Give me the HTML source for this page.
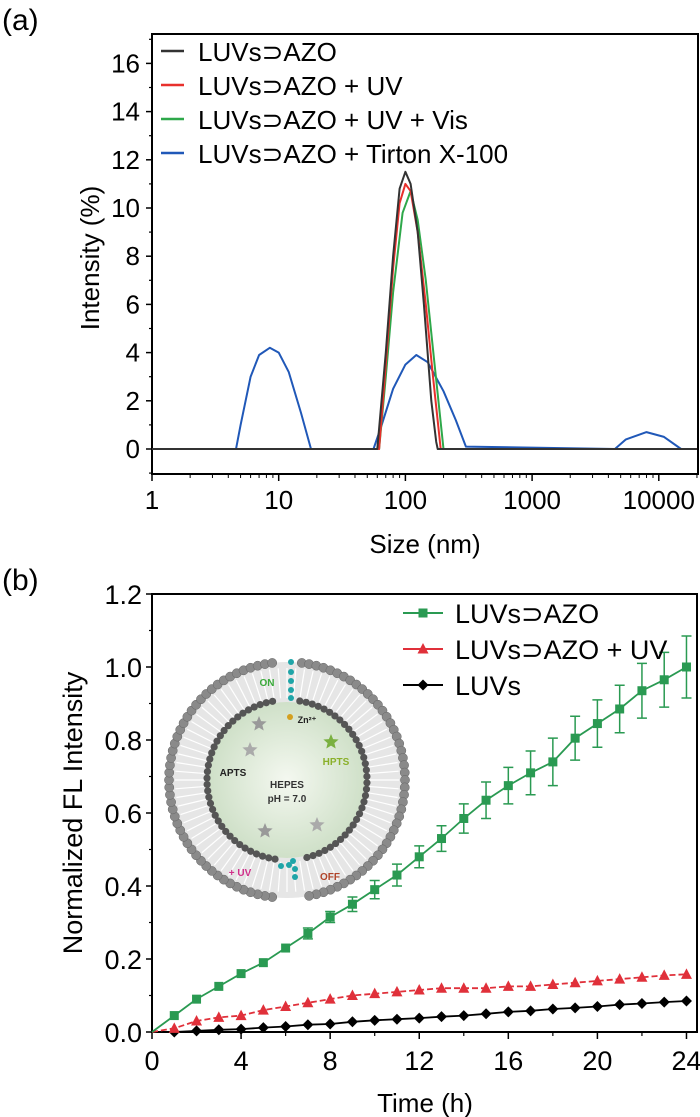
<!DOCTYPE html>
<html><head><meta charset="utf-8"><style>
body{margin:0;background:#fff;}
svg{display:block;font-family:"Liberation Sans",Arial,sans-serif;}
</style></head><body>
<svg id="fig" width="700" height="1117" viewBox="0 0 700 1117" xmlns="http://www.w3.org/2000/svg">
<text x="2" y="30" font-size="30">(a)</text>
<text x="2" y="590" font-size="30">(b)</text>
<g id="pa"></g>
<g id="inset"></g>
<g id="pb"></g>
</svg>
<script>
// ---- Panel (a) data ----
const aXTicks=[1,10,100,1000,10000];
const aYTicks=[0,2,4,6,8,10,12,14,16];
const aNames=["LUVs⊃AZO","LUVs⊃AZO + UV","LUVs⊃AZO + UV + Vis","LUVs⊃AZO + Tirton X-100"];
const aColors=["#333333","#e8302c","#2ea84a","#2058b8"];
const blackX=[1,60,70,80,90,100,110,125,140,160,175,180,20000];
const blackY=[0,0,4,8,10.8,11.5,11,9,6,2,0.3,0,0];
const redX=[1,62,70,80,90,100,110,125,145,165,190,20000];
const redY=[0,0,3.5,7.5,10.2,11,10.7,9,6,3,0,0];
const greenX=[1,62,70,80,95,110,125,145,170,200,20000];
const greenY=[0,0,3,6.5,9.8,10.7,9.5,7,3.5,0,0];
const blueX=[1,4.6,5,6,7,8.5,10,12,15,18,56,65,80,100,122,150,200,250,300,4500,5500,8000,11000,15000,20000];
const blueY=[0,0,1,3,3.9,4.2,4,3.2,1.5,0,0,1,2.5,3.5,3.9,3.6,2.4,1.2,0.1,0,0.4,0.7,0.5,0,0];

// ---- Panel (b) data ----
const times=[0,1,2,3,4,5,6,7,8,9,10,11,12,13,14,15,16,17,18,19,20,21,22,23,24];
const greenVals=[0,0.045,0.09,0.125,0.16,0.19,0.23,0.27,0.315,0.35,0.39,0.43,0.48,0.53,0.585,0.635,0.675,0.71,0.74,0.805,0.845,0.885,0.935,0.965,1.0];
const greenErr=[0,0.005,0.005,0.005,0.008,0.008,0.01,0.015,0.015,0.02,0.025,0.03,0.03,0.035,0.04,0.05,0.05,0.06,0.065,0.06,0.065,0.065,0.075,0.075,0.085];
const redVals=[0,0.01,0.03,0.04,0.045,0.06,0.07,0.08,0.09,0.1,0.105,0.11,0.115,0.12,0.12,0.12,0.125,0.125,0.13,0.135,0.14,0.145,0.15,0.155,0.158];
const blackVals=[0,0,0.003,0.006,0.008,0.012,0.015,0.02,0.022,0.028,0.032,0.035,0.038,0.042,0.045,0.05,0.055,0.058,0.063,0.066,0.07,0.075,0.078,0.082,0.085];
const bXTicks=[0,4,8,12,16,20,24];
const bYTicks=[0,0.2,0.4,0.6,0.8,1.0,1.2];
const bNames=["LUVs⊃AZO","LUVs⊃AZO + UV","LUVs"];

const NS="http://www.w3.org/2000/svg";
function mk(p,t,a){const e=document.createElementNS(NS,t);for(const k in a)e.setAttribute(k,a[k]);p.appendChild(e);return e;}

// Panel a axes
const aL=152,aR=698,aT=34,aB=474;
const ax=v=>aL+(Math.log10(v))*126.7;
const ay=v=>449-(v)*24.1;
const pa=document.getElementById('pa');
let e;
e=mk(pa,'rect',{x:aL,y:aT,width:aR-aL,height:aB-aT,fill:'none',stroke:'#000','stroke-width':2});


aYTicks.forEach(v=>{
 e=mk(pa,'line',{x1:aL-6,x2:aL,y1:ay(v),y2:ay(v),stroke:'#000','stroke-width':1.5});
 
 
 e=mk(pa,'line',{x1:aL-3,x2:aL,y1:ay(v+1),y2:ay(v+1),stroke:'#000','stroke-width':1.2});
 
 
 e=mk(pa,'text',{x:aL-12,y:ay(v)+9,'font-size':26,'text-anchor':'end'});e.textContent=v;
 
 
});
e=mk(pa,'line',{x1:aL-3,x2:aL,y1:ay(-1),y2:ay(-1),stroke:'#000','stroke-width':1.2});


aXTicks.forEach(v=>{
 e=mk(pa,'line',{x1:ax(v),x2:ax(v),y1:aB,y2:aB+7,stroke:'#000','stroke-width':1.5});
 
 
 for(let m=2;m<10;m++){const xv=v*m;if(ax(xv)<aR){
  e=mk(pa,'line',{x1:ax(xv),x2:ax(xv),y1:aB,y2:aB+4,stroke:'#000','stroke-width':1});
  
  }}
 e=mk(pa,'text',{x:ax(v),y:509,'font-size':26,'text-anchor':'middle'});e.textContent=v;
 
 
});
e=mk(pa,'text',{x:425,y:553,'font-size':26,'text-anchor':'middle'});e.textContent='Size (nm)';


e=mk(pa,'text',{x:0,y:0,'font-size':26,'text-anchor':'middle',transform:'translate(99,258) rotate(-90)'});e.textContent='Intensity (%)';


const aSeries=[[blueX,blueY],[greenX,greenY],[redX,redY],[blackX,blackY]];
const aIdx=[3,2,1,0];
aSeries.forEach((s,i)=>{
 const d=s[0].map((x,j)=>(j?'L':'M')+ax(x).toFixed(1)+','+ay(s[1][j]).toFixed(1)).join('');
 e=mk(pa,'path',{d:d,fill:'none',stroke:aColors[aIdx[i]],'stroke-width':2,'stroke-linejoin':'round'});
 
 
});
const legY=[52,86,120,154];
aNames.forEach((n,i)=>{
 e=mk(pa,'line',{x1:161,x2:184,y1:legY[i]-1,y2:legY[i]-1,stroke:aColors[i],'stroke-width':2.5});
 
 
 e=mk(pa,'text',{x:198,y:legY[i]+9,'font-size':26});e.textContent=n;
 
 
});

// Inset illustration (decorative)
const ins=document.getElementById('inset');
const cx=287,cy=780;
const defs=mk(ins,'defs',{});
const rg=mk(defs,'radialGradient',{id:'cg'});
mk(rg,'stop',{offset:'0','stop-color':'#f4f8f0'});
mk(rg,'stop',{offset:'1','stop-color':'#cfe0c8'});
e=mk(ins,'circle',{cx:cx,cy:cy,r:118,fill:'#e6e6e6'});


for(let a=0;a<360;a+=4.5){const r=a*Math.PI/180;
 e=mk(ins,'line',{x1:cx+82*Math.sin(r),y1:cy-82*Math.cos(r),x2:cx+112*Math.sin(r),y2:cy-112*Math.cos(r),stroke:'#fff','stroke-width':1.2});
 
 }
e=mk(ins,'circle',{cx:cx,cy:cy,r:78,fill:'url(#cg)'});


for(let a=0;a<360;a+=3.6){if(a<4||a>356||(a>172&&a<186))continue;const r=a*Math.PI/180;
 e=mk(ins,'circle',{cx:cx+118*Math.sin(r),cy:cy-118*Math.cos(r),r:4.6,fill:'#8a8a8a',stroke:'#666','stroke-width':0.5});
 
 }
for(let a=0;a<360;a+=4.6){if(a<8||a>352||(a>170&&a<188))continue;const r=a*Math.PI/180;
 e=mk(ins,'circle',{cx:cx+80*Math.sin(r),cy:cy-80*Math.cos(r),r:3.6,fill:'#555'});
 
 }
[[cx+4,662],[cx+4,672],[cx+4,681],[cx+4,690],[cx+4,698],[cx+6,861],[cx+8,869],[cx+8,877],[cx+2,865],[cx-6,866]].forEach(p=>{
 e=mk(ins,'circle',{cx:p[0],cy:p[1],r:3,fill:'#1fa5a8'});
 
 });
const labs=[["ON",267,686,"#3aaa3a",10],["Zn²⁺",307,723,"#222",9],["APTS",233,776,"#222",10],["HPTS",336,765,"#8ab02a",10],["HEPES",287,788,"#333",10],["pH = 7.0",287,802,"#333",10],["+ UV",240,876,"#d0308a",10],["OFF",330,880,"#b0442a",10]];
labs.forEach(l=>{e=mk(ins,'text',{x:l[1],y:l[2],'font-size':l[4],'font-weight':'bold',fill:l[3],'text-anchor':'middle'});e.textContent=l[0];
 
 });
function star(x,y,r,c){let d='';for(let k=0;k<10;k++){const rr=k%2?r*0.45:r;const t=Math.PI/5*k-Math.PI/2;d+=(k?'L':'M')+(x+rr*Math.cos(t)).toFixed(1)+','+(y+rr*Math.sin(t)).toFixed(1);}
 e=mk(ins,'path',{d:d+'Z',fill:c});
 
 }
star(259,724,8,'#999');star(250,750,8,'#aaa');star(331,742,8,'#7ab040');star(265,831,8,'#999');star(317,825,8,'#aaa');
e=mk(ins,'circle',{cx:cx+3,cy:717,r:3,fill:'#d4a020'});



// Panel b axes
const bL=152,bR=697,bT=594,bB=1032;
const bx=v=>bL+v*22.27;
const by=v=>bB-v*365;
const pb=document.getElementById('pb');
e=mk(pb,'rect',{x:bL,y:bT,width:bR-bL,height:bB-bT,fill:'none',stroke:'#000','stroke-width':2});


bYTicks.forEach(v=>{
 e=mk(pb,'line',{x1:bL-6,x2:bL,y1:by(v),y2:by(v),stroke:'#000','stroke-width':1.5});
 
 
 if(v<1.2){e=mk(pb,'line',{x1:bL-3,x2:bL,y1:by(v+0.1),y2:by(v+0.1),stroke:'#000','stroke-width':1.2});
 
 }
 e=mk(pb,'text',{x:bL-10,y:by(v)+10,'font-size':27,'text-anchor':'end'});e.textContent=v.toFixed(1);
 
 
});
bXTicks.forEach(v=>{
 e=mk(pb,'line',{x1:bx(v),x2:bx(v),y1:bB,y2:bB+7,stroke:'#000','stroke-width':1.5});
 
 
 if(v<24){e=mk(pb,'line',{x1:bx(v+2),x2:bx(v+2),y1:bB,y2:bB+4,stroke:'#000','stroke-width':1.2});
 
 }
 e=mk(pb,'text',{x:bx(v),y:1070,'font-size':27,'text-anchor':'middle'});e.textContent=v;
 
 
});
e=mk(pb,'text',{x:425,y:1112,'font-size':26,'text-anchor':'middle'});e.textContent='Time (h)';


e=mk(pb,'text',{x:0,y:0,'font-size':27,'text-anchor':'middle',transform:'translate(82,813) rotate(-90)'});e.textContent='Normalized FL Intensity';



function marker(p,type,x,y,c){
 if(type==='sq') e=mk(p,'rect',{x:x-4.5,y:y-4.5,width:9,height:9,fill:c});
 else if(type==='tri') e=mk(p,'path',{d:`M${x},${y-6}L${x+5.5},${y+4.5}L${x-5.5},${y+4.5}Z`,fill:c});
 else e=mk(p,'path',{d:`M${x},${y-5.5}L${x+5.5},${y}L${x},${y+5.5}L${x-5.5},${y}Z`,fill:c});
 
 
}
// green error bars
times.forEach((t,i)=>{if(greenErr[i]<0.012)return;
 const x=bx(t),y1=by(greenVals[i]-greenErr[i]),y2=by(greenVals[i]+greenErr[i]);
 e=mk(pb,'path',{d:`M${x},${y1}L${x},${y2}M${x-5},${y1}L${x+5},${y1}M${x-5},${y2}L${x+5},${y2}`,stroke:'#2a9a52','stroke-width':1.5,fill:'none'});
 
 
});
const bSeries=[[blackVals,'#000','dia',''],[redVals,'#e0303a','tri','6,3'],[greenVals,'#2a9a52','sq','']];
bSeries.forEach(s=>{
 const d=times.map((t,i)=>(i?'L':'M')+bx(t).toFixed(1)+','+by(s[0][i]).toFixed(1)).join('');
 e=mk(pb,'path',{d:d,fill:'none',stroke:s[1],'stroke-width':1.8,'stroke-dasharray':s[3]});
 
 
 times.forEach((t,i)=>{if(i>0)marker(pb,s[2],bx(t),by(s[0][i]),s[1]);});
});
const bLeg=[[613,'#2a9a52','sq'],[649,'#e0303a','tri'],[685,'#000','dia']];
bNames.forEach((n,i)=>{
 e=mk(pb,'line',{x1:403,x2:443,y1:bLeg[i][0],y2:bLeg[i][0],stroke:bLeg[i][1],'stroke-width':2});
 
 
 marker(pb,bLeg[i][2],423,bLeg[i][0],bLeg[i][1]);
 e=mk(pb,'text',{x:455,y:bLeg[i][0]+10,'font-size':27});e.textContent=n;
 
 
});
</script>
</body></html>
